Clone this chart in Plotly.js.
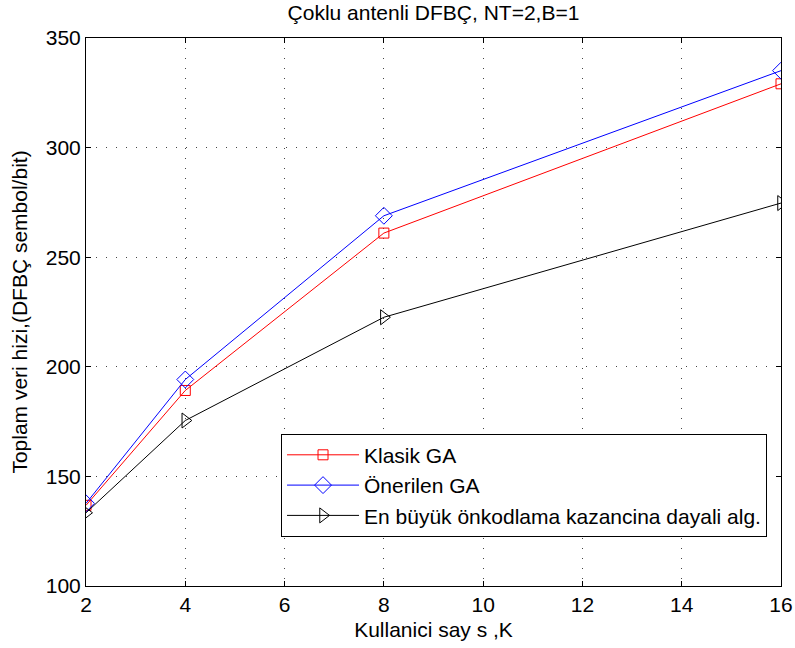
<!DOCTYPE html>
<html>
<head>
<meta charset="utf-8">
<script src="https://cdn.plot.ly/plotly-3.0.1.min.js"></script>
<style>html,body{margin:0;padding:0;background:#fff;}#chart{width:795px;height:648px;}</style>
</head>
<body>
<div id="chart"></div>
<script>
const users = [2, 4, 8, 16];
const klasikGA = [136.8, 189.2, 261.0, 329.1];
const onerilenGA = [137.7, 194.2, 268.9, 335.1];
const enBuyuk = [133.4, 175.5, 222.6, 274.7];
const seriesNames = ["Klasik GA", "Önerilen GA", "En büyük önkodlama kazancina dayali alg."];
const xTicks = [2, 4, 6, 8, 10, 12, 14, 16];
const yTicks = [100, 150, 200, 250, 300, 350];

const font = "Liberation Sans, Arial, sans-serif";
const fs = 21;

const traces = [
  {x: users, y: klasikGA, name: seriesNames[0], mode: "lines+markers",
   line: {color: "#ff0000", width: 1},
   marker: {symbol: "square-open", size: 10, color: "#ff0000", line: {width: 1}}},
  {x: users, y: onerilenGA, name: seriesNames[1], mode: "lines+markers",
   line: {color: "#0000ff", width: 1},
   marker: {symbol: "diamond-open", size: 13, color: "#0000ff", line: {width: 1}}},
  {x: users, y: enBuyuk, name: seriesNames[2], mode: "lines+markers",
   line: {color: "#000000", width: 1},
   marker: {symbol: "triangle-right-open", size: 13, color: "#000000", line: {width: 1}}}
];

const axisCommon = {
  showline: true, linecolor: "#000", linewidth: 1, mirror: "ticks",
  ticks: "inside", ticklen: 5, tickcolor: "#000",
  showgrid: true, gridcolor: "#444", griddash: "1px,9px", gridwidth: 1,
  zeroline: false, tickfont: {family: font, size: fs, color: "#000"}
};

const layout = {
  width: 795, height: 648,
  margin: {l: 86, r: 14, t: 38, b: 62},
  paper_bgcolor: "#fff", plot_bgcolor: "#fff",
  font: {family: font, color: "#000"},
  title: {text: "Çoklu antenli DFBÇ, NT=2,B=1", font: {family: font, size: fs, color: "#000"},
          x: 0.5, xref: "paper", y: 0.98, yanchor: "middle"},
  xaxis: Object.assign({}, axisCommon, {range: [2, 16], tickvals: xTicks, automargin: false,
          title: {text: "Kullanici say s ,K", font: {family: font, size: fs, color: "#000"}, standoff: 7}}),
  yaxis: Object.assign({}, axisCommon, {range: [100, 350], tickvals: yTicks, automargin: false,
          title: {text: "Toplam veri hizi,(DFBÇ sembol/bit)", font: {family: font, size: fs, color: "#000"}, standoff: 12}}),
  legend: {x: 0.2806, y: 0.278, xanchor: "left", yanchor: "top",
           bgcolor: "#fff", bordercolor: "#000", borderwidth: 1,
           font: {family: font, size: fs, color: "#000"}, itemwidth: 72,
           tracegroupgap: 0},
  showlegend: true
};

Plotly.newPlot("chart", traces, layout, {displayModeBar: false, staticPlot: true});
</script>
</body>
</html>
